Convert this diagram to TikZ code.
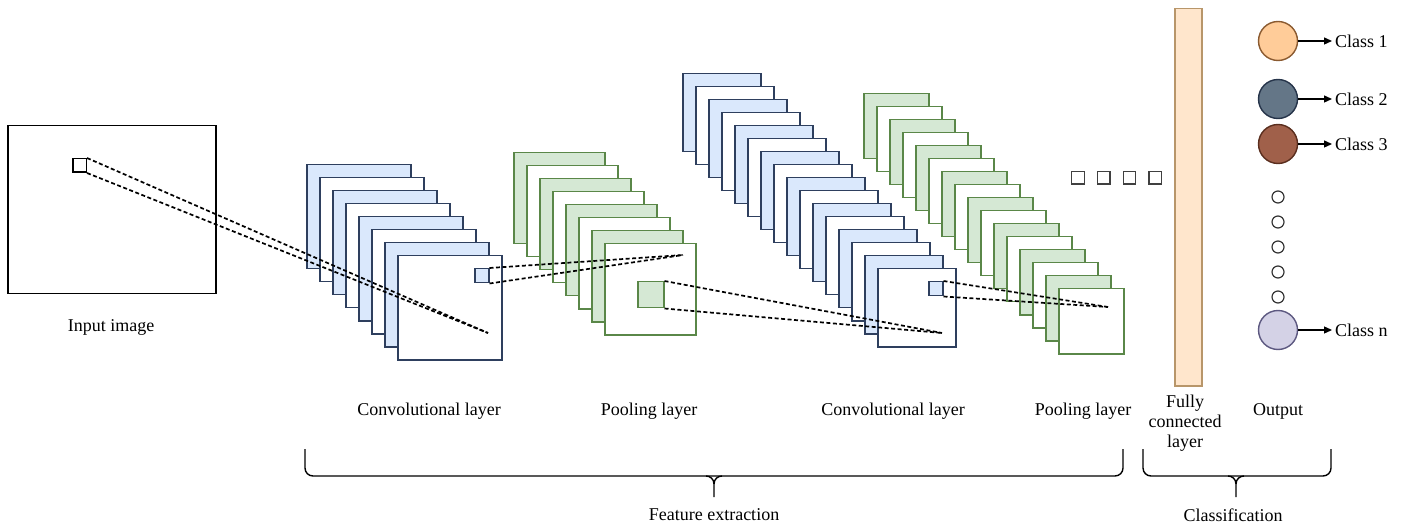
\documentclass[tikz,border=0pt]{standalone}
\usepackage{fontspec}
\setmainfont{Liberation Serif}
\usepackage{tikz}
\usetikzlibrary{arrows.meta, positioning, calc}
\definecolor{convfill}{HTML}{DAE8FC}
\definecolor{convline}{HTML}{2E3F5E}
\definecolor{poolfill}{HTML}{D5E8D4}
\definecolor{poolline}{HTML}{5A8748}
\definecolor{fcfill}{HTML}{FFE6CC}
\definecolor{fcline}{HTML}{B8966A}
\definecolor{clsA}{HTML}{FFCC99}
\definecolor{clsAline}{HTML}{8A5A30}
\definecolor{clsB}{HTML}{647687}
\definecolor{clsBline}{HTML}{26344A}
\definecolor{clsC}{HTML}{A0604A}
\definecolor{clsCline}{HTML}{5A2E1E}
\definecolor{clsN}{HTML}{D4D2E6}
\definecolor{clsNline}{HTML}{5C5880}

\tikzset{
	fmap/.style={rectangle, draw, line width=1.5pt, inner sep=0pt, anchor=north west},
	proj/.style={line width=1.7pt, dash pattern=on 4pt off 2.5pt},
	lbl/.style={inner sep=0pt, align=center},
	bracket/.style={line width=1.4pt, rounded corners=8pt},
	outc/.style={circle, draw, line width=1.4pt, inner sep=0pt, minimum size=39pt},
	dotc/.style={circle, draw=black!80, line width=1.2pt, inner sep=0pt, minimum size=12pt},
	clsarrow/.style={line width=1.3pt, -{Triangle[length=8pt,width=7pt]}}
}

\begin{document}
\begin{tikzpicture}[x=1pt, y=-1pt, font=\fontsize{18}{20}\selectfont]
		\useasboundingbox (0,0) rectangle (1404,526);
		
		%----------------------------------------------------------------
		\node(input) [fmap, minimum width=208pt, minimum height=168pt] at (7,125) {};
		\node(win) [fmap, minimum size=13.5pt] at (72,158) {};
		\node(inputlbl) [lbl] at (111,327) {Input image};
		
		%----------------------------------------------------------------
		\foreach \i in {0,...,7}{
			\pgfmathtruncatemacro{\odd}{mod(\i,2)}
			\ifnum\odd=0 \def\fc{convfill}\else\def\fc{white}\fi
			\node(convA-\i) [fmap, draw=convline, fill=\fc, minimum size=104pt] at (306+13*\i,164+13*\i) {};
		}
		\node(kerA) [fmap, draw=convline, fill=convfill, minimum size=14pt] at (474,268) {};
		\node(convAlbl) [lbl] at (429,411) {Convolutional layer};
		
		%----------------------------------------------------------------
		\foreach \i in {0,...,7}{
			\pgfmathtruncatemacro{\odd}{mod(\i,2)}
			\ifnum\odd=0 \def\fc{poolfill}\else\def\fc{white}\fi
			\node(poolA-\i) [fmap, draw=poolline, fill=\fc, minimum size=91pt] at (513+13*\i,152+13*\i) {};
		}
		\node(kerB) [fmap, draw=poolline, fill=poolfill, minimum size=26pt] at (637,281) {};
		\node(poolAlbl) [lbl] at (649,411) {Pooling layer};
		
		%----------------------------------------------------------------
		\foreach \i in {0,...,15}{
			\pgfmathtruncatemacro{\odd}{mod(\i,2)}
			\ifnum\odd=0 \def\fc{convfill}\else\def\fc{white}\fi
			\node(convB-\i) [fmap, draw=convline, fill=\fc, minimum size=78pt] at (682+13*\i,73+13*\i) {};
		}
		\node(kerC) [fmap, draw=convline, fill=convfill, minimum size=14pt] at (928,281) {};
		\node(convBlbl) [lbl] at (893,411) {Convolutional layer};
		
		%----------------------------------------------------------------
		\foreach \i in {0,...,15}{
			\pgfmathtruncatemacro{\odd}{mod(\i,2)}
			\ifnum\odd=0 \def\fc{poolfill}\else\def\fc{white}\fi
			\node(poolB-\i) [fmap, draw=poolline, fill=\fc, minimum size=65pt] at (863+13*\i,93+13*\i) {};
		}
		\node(poolBlbl) [lbl] at (1083,411) {Pooling layer};
		
		\foreach \i in {0,...,3}
			\node(more-\i) [fmap, draw=black!75, line width=1.2pt, minimum size=12.5pt] at (1071+25.8*\i,171) {};
		
		%----------------------------------------------------------------
		\node(fc) [fmap, draw=fcline, fill=fcfill, minimum width=27pt, minimum height=377pt] at (1174,8) {};
		\node(fclbl) [lbl] at (1185,423) {Fully\\ connected\\ layer};
		
		%----------------------------------------------------------------
		\node(outA) [outc, draw=clsAline, fill=clsA] at (1278,41) {};
		\node(outB) [outc, draw=clsBline, fill=clsB] at (1278,99) {};
		\node(outC) [outc, draw=clsCline, fill=clsC] at (1278,144) {};
		\node(outN) [outc, draw=clsNline, fill=clsN] at (1278,330) {};
		\foreach \i in {0,...,4}
			\node(dot-\i) [dotc] at (1278,197+25*\i) {};
		
		\node(clsAlbl) [lbl, anchor=west, inner sep=3pt] at (1332,41) {Class 1};
		\node(clsBlbl) [lbl, anchor=west, inner sep=3pt] at (1332,99) {Class 2};
		\node(clsClbl) [lbl, anchor=west, inner sep=3pt] at (1332,144) {Class 3};
		\node(clsNlbl) [lbl, anchor=west, inner sep=3pt] at (1332,330) {Class n};
		\draw [clsarrow] (outA) -- (clsAlbl);
		\draw [clsarrow] (outB) -- (clsBlbl);
		\draw [clsarrow] (outC) -- (clsClbl);
		\draw [clsarrow] (outN) -- (clsNlbl);
		\node(outlbl) [lbl] at (1278,411) {Output};
		
		%----------------------------------------------------------------
		\coordinate (hitA) at (488,333);
		\coordinate (hitB) at (683,255);
		\coordinate (hitC) at (942,333);
		\coordinate (hitD) at (1108,307);
		\draw [proj] (win.north east) -- (hitA);
		\draw [proj] (win.south east) -- (hitA);
		\draw [proj] (kerA.north east) -- (hitB);
		\draw [proj] (kerA.south east) -- (hitB);
		\draw [proj] (kerB.north east) -- (hitC);
		\draw [proj] (kerB.south east) -- (hitC);
		\draw [proj] (kerC.north east) -- (hitD);
		\draw [proj] (kerC.south east) -- (hitD);
		
		%----------------------------------------------------------------
		\coordinate (featL) at (305,449);
		\coordinate (featR) at (1123,449);
		\coordinate (featT) at (714,497);
		\coordinate (clsL) at (1143,449);
		\coordinate (clsR) at (1331,449);
		\coordinate (clsT) at (1236,497);
		\draw [bracket] (featL) -- (305,476) -- (1123,476) -- (featR);
		\draw [line width=1.4pt] (featT) -- ++(0,-13) .. controls +(0,-5) and +(4,0) .. ++(-8,-8);
		\draw [line width=1.4pt] (featT) ++(0,-13) .. controls +(0,-5) and +(-4,0) .. ++(8,-8);
		\draw [bracket] (clsL) -- (1143,476) -- (1331,476) -- (clsR);
		\draw [line width=1.4pt] (clsT) -- ++(0,-13) .. controls +(0,-5) and +(4,0) .. ++(-8,-8);
		\draw [line width=1.4pt] (clsT) ++(0,-13) .. controls +(0,-5) and +(-4,0) .. ++(8,-8);
		\node(featlbl) [lbl] at (714,515) {Feature extraction};
		\node(clslbl) [lbl] at (1233,515) {Classification};
		
	\end{tikzpicture}
\end{document}
